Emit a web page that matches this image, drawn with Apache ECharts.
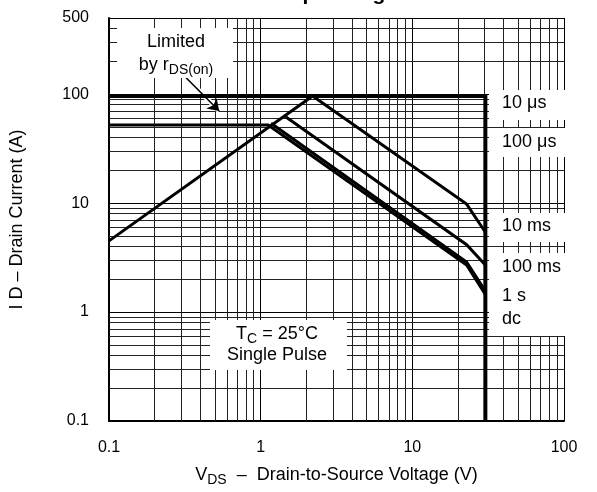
<!DOCTYPE html>
<html>
<head>
<meta charset="utf-8">
<script src="https://cdn.jsdelivr.net/npm/echarts@6/dist/echarts.min.js"></script>
<style>
html, body { margin: 0; padding: 0; background: #fff; }
#chart { width: 597px; height: 492px; }
</style>
</head>
<body>
<div id="chart"></div>
<script>
// V_DS (V) , I_D (A)
var limit10us = [[0.1, 96], [30.3, 96], [30.3, 0.1]];
var rdsLimit = [[0.1, 4.5], [2.2, 96]];
var curve10ms = [[2.2, 96], [22.8, 9.8], [30.3, 5.4]];
var curve100ms = [[1.46, 62], [22.8, 4.15], [30.3, 2.7]];
var curve1s = [[1.17, 54], [22.8, 2.88], [30.3, 1.56]];
var curveDc = [[0.1, 52], [1.12, 52], [22.8, 2.7], [30.3, 1.45]];

// minor grid positions (log paper)
var xMinor = [0.2, 0.3, 0.4, 0.5, 0.6, 0.7, 0.8, 0.9, 2, 3, 4, 5, 6, 7, 8, 9, 20, 30, 40, 50, 60, 70, 80, 90];
var yMinor = [0.2, 0.3, 0.4, 0.5, 0.6, 0.7, 0.8, 0.9, 2, 3, 4, 5, 6, 7, 8, 9, 20, 30, 40, 50, 60, 70, 80, 90, 200, 300, 400];

// arrow "Limited by rDS(on)"
var arrowFrom = [0.315, 146];
var arrowTo = [0.533, 70];

var font = '"Liberation Sans", Arial, Helvetica, sans-serif';

function curve(data, w) {
    return {
        type: 'line',
        data: data,
        symbol: 'none',
        silent: true,
        z: 5,
        lineStyle: { color: '#000', width: w, join: 'miter' }
    };
}

function fmt(v) {
    return String(+Number(v).toPrecision(3));
}

var myChart = echarts.init(document.getElementById('chart'));

var gridLines = xMinor.map(function (v) { return { xAxis: v }; })
    .concat(yMinor.map(function (v) { return { yAxis: v }; }));

var option = {
    animation: false,
    backgroundColor: '#fff',
    textStyle: { fontFamily: font, color: '#000' },
    grid: { left: 107, right: 33, top: 18, bottom: 66 },
    xAxis: {
        type: 'log',
        logBase: 10,
        min: 0.1,
        max: 100,
        name: 'V{s|DS}  –  Drain-to-Source Voltage (V)',
        nameLocation: 'middle',
        nameGap: 42,
        nameTextStyle: {
            fontFamily: font, fontSize: 18, color: '#000',
            rich: { s: { fontFamily: font, fontSize: 14, color: '#000', padding: [10, 0, 0, 0] } }
        },
        axisLine: { show: true, lineStyle: { color: '#000', width: 2 } },
        axisTick: { show: false },
        axisLabel: { fontFamily: font, fontSize: 16, color: '#000', margin: 19, formatter: fmt },
        splitLine: { show: true, lineStyle: { color: '#000', width: 1 } }
    },
    yAxis: {
        type: 'log',
        logBase: 10,
        min: 0.1,
        max: 500,
        name: 'I D – Drain Current (A)',
        nameLocation: 'middle',
        nameGap: 83,
        nameTextStyle: { fontFamily: font, fontSize: 18, color: '#000' },
        axisLine: { show: true, lineStyle: { color: '#000', width: 2 } },
        axisTick: { show: false },
        axisLabel: { fontFamily: font, fontSize: 16, color: '#000', margin: 20, formatter: fmt },
        splitLine: { show: true, lineStyle: { color: '#000', width: 1 } }
    },
    series: [
        {
            // minor grid lines of the log paper
            type: 'line',
            data: [],
            silent: true,
            z: 1,
            markLine: {
                silent: true,
                symbol: 'none',
                animation: false,
                label: { show: false },
                lineStyle: { color: '#222', width: 1, type: 'solid' },
                data: gridLines
            }
        },
        curve(limit10us, 4),
        curve(rdsLimit, 3),
        curve(curve10ms, 3),
        curve(curve100ms, 3),
        curve(curve1s, 3),
        curve(curveDc, 3),
        {
            type: 'line',
            data: [],
            silent: true,
            z: 6,
            markLine: {
                silent: true,
                animation: false,
                label: { show: false },
                data: [
                    [{ coord: arrowFrom, symbol: 'none', lineStyle: { color: '#fff', width: 5, type: 'solid' } },
                     { coord: arrowTo, symbol: 'none' }],
                    [{ coord: arrowFrom, symbol: 'none', symbolSize: 11, lineStyle: { color: '#000', width: 1.6, type: 'solid' } },
                     { coord: arrowTo, symbol: 'arrow', symbolSize: 11 }]
                ]
            }
        }
    ],
    graphic: [
        // title, cut by the top of the picture
        { type: 'text', x: 337, y: 5, z: 100, style: { text: 'Safe Operating Area', font: 'bold 21px ' + font, fill: '#000', textAlign: 'center', textVerticalAlign: 'bottom' } },

        // Limited by rDS(on)
        { type: 'rect', z: 100, shape: { x: 117, y: 28, width: 116, height: 50 }, style: { fill: '#fff' } },
        { type: 'text', x: 176, y: 42, z: 101, style: { text: 'Limited', font: '18px ' + font, fill: '#000', textAlign: 'center', textVerticalAlign: 'middle' } },
        { type: 'text', x: 176, y: 65, z: 101, style: {
            text: 'by r{s|DS(on)}', font: '18px ' + font, fill: '#000', textAlign: 'center', textVerticalAlign: 'middle',
            rich: { s: { font: '14px ' + font, fill: '#000', padding: [10, 0, 0, 0] } }
        } },

        // TC = 25 C, Single Pulse
        { type: 'rect', z: 100, shape: { x: 210, y: 320, width: 137, height: 50 }, style: { fill: '#fff' } },
        { type: 'text', x: 277, y: 334, z: 101, style: {
            text: 'T{s|C} = 25°C', font: '18px ' + font, fill: '#000', textAlign: 'center', textVerticalAlign: 'middle',
            rich: { s: { font: '14px ' + font, fill: '#000', padding: [10, 0, 0, 0] } }
        } },
        { type: 'text', x: 277, y: 355, z: 101, style: { text: 'Single Pulse', font: '18px ' + font, fill: '#000', textAlign: 'center', textVerticalAlign: 'middle' } },

        // curve labels on the right
        { type: 'rect', z: 100, shape: { x: 489, y: 90, width: 80, height: 30 }, style: { fill: '#fff' } },
        { type: 'rect', z: 100, shape: { x: 489, y: 128, width: 80, height: 29 }, style: { fill: '#fff' } },
        { type: 'rect', z: 100, shape: { x: 489, y: 213, width: 80, height: 29 }, style: { fill: '#fff' } },
        { type: 'rect', z: 100, shape: { x: 489, y: 253, width: 80, height: 83 }, style: { fill: '#fff' } },
        { type: 'text', x: 502, y: 103, z: 101, style: { text: '10 μs', font: '18px ' + font, fill: '#000', textVerticalAlign: 'middle' } },
        { type: 'text', x: 502, y: 142, z: 101, style: { text: '100 μs', font: '18px ' + font, fill: '#000', textVerticalAlign: 'middle' } },
        { type: 'text', x: 502, y: 226, z: 101, style: { text: '10 ms', font: '18px ' + font, fill: '#000', textVerticalAlign: 'middle' } },
        { type: 'text', x: 502, y: 267, z: 101, style: { text: '100 ms', font: '18px ' + font, fill: '#000', textVerticalAlign: 'middle' } },
        { type: 'text', x: 502, y: 296, z: 101, style: { text: '1 s', font: '18px ' + font, fill: '#000', textVerticalAlign: 'middle' } },
        { type: 'text', x: 502, y: 319, z: 101, style: { text: 'dc', font: '18px ' + font, fill: '#000', textVerticalAlign: 'middle' } }
    ]
};

myChart.setOption(option);
</script>
</body>
</html>
